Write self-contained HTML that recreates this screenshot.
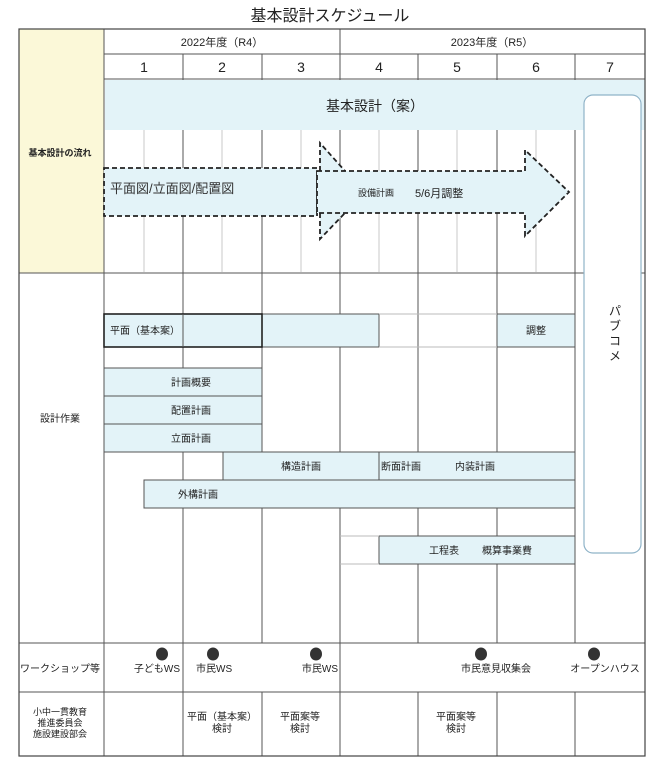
<!DOCTYPE html>
<html><head><meta charset="utf-8"><style>
body{margin:0;background:#fff}
svg{display:block;font-family:"Liberation Sans","Noto Sans CJK JP",sans-serif}
</style></head><body>
<svg width="659" height="768" viewBox="0 0 659 768" xmlns="http://www.w3.org/2000/svg">
<text x="330" y="21" font-size="16" text-anchor="middle" fill="#222">基本設計スケジュール</text>
<!-- label column fill -->
<rect x="19" y="29" width="85" height="244" fill="#fbf8d8"/>
<!-- blue band -->
<rect x="105" y="80" width="540" height="50" fill="#e3f3f8"/>
<!-- flow sub grid -->
<g stroke="#c8c8c8" stroke-width="1">
<line x1="144" y1="130" x2="144" y2="272"/><line x1="222" y1="130" x2="222" y2="272"/><line x1="301" y1="130" x2="301" y2="272"/><line x1="379" y1="130" x2="379" y2="272"/><line x1="457" y1="130" x2="457" y2="272"/><line x1="536" y1="130" x2="536" y2="272"/>
</g>
<g stroke="#555" stroke-width="1">
<line x1="183" y1="130" x2="183" y2="643"/><line x1="262" y1="130" x2="262" y2="643"/><line x1="340" y1="130" x2="340" y2="643"/><line x1="418" y1="130" x2="418" y2="643"/><line x1="497" y1="130" x2="497" y2="643"/><line x1="575" y1="130" x2="575" y2="643"/>
<line x1="183" y1="54" x2="183" y2="80"/><line x1="262" y1="54" x2="262" y2="80"/><line x1="340" y1="29" x2="340" y2="80"/><line x1="418" y1="54" x2="418" y2="80"/><line x1="497" y1="54" x2="497" y2="80"/><line x1="575" y1="54" x2="575" y2="80"/>
<line x1="104" y1="54" x2="645" y2="54"/><line x1="104" y1="79" x2="645" y2="79"/>
<line x1="19" y1="273" x2="645" y2="273"/>
<line x1="19" y1="643" x2="645" y2="643"/><line x1="19" y1="692" x2="645" y2="692"/>
<line x1="183" y1="643" x2="183" y2="692"/><line x1="340" y1="643" x2="340" y2="692"/>
<line x1="183" y1="692" x2="183" y2="756"/><line x1="262" y1="692" x2="262" y2="756"/><line x1="340" y1="692" x2="340" y2="756"/><line x1="418" y1="692" x2="418" y2="756"/><line x1="497" y1="692" x2="497" y2="756"/><line x1="575" y1="692" x2="575" y2="756"/>
<line x1="104" y1="29" x2="104" y2="756"/>
</g>
<rect x="19" y="29" width="626" height="727" fill="none" stroke="#444" stroke-width="1.2"/>
<!-- headers -->
<g font-size="11" text-anchor="middle" fill="#222">
<text x="222" y="46">2022年度（R4）</text><text x="492" y="46">2023年度（R5）</text>
</g>
<g font-size="14" text-anchor="middle" fill="#222">
<text x="144" y="72">1</text><text x="222" y="72">2</text><text x="301" y="72">3</text><text x="379" y="72">4</text><text x="457" y="72">5</text><text x="536" y="72">6</text><text x="610" y="72">7</text>
</g>
<text x="375" y="111" font-size="14" text-anchor="middle" fill="#222">基本設計（案）</text>
<text x="60" y="156" font-size="9" font-weight="bold" text-anchor="middle" fill="#222">基本設計の流れ</text>
<!-- dashed box -->
<rect x="104" y="168" width="213" height="48" fill="#e3f3f8" stroke="#222" stroke-width="1.8" stroke-dasharray="5,3"/>
<text x="110" y="193" font-size="13" fill="#333">平面図/立面図/配置図</text>
<!-- arrows -->
<polygon points="320,143 345,171 320,171" fill="#e3f3f8"/>
<polygon points="320,239 345,213 320,213" fill="#e3f3f8"/>
<polygon points="317,171 525,171 525,150 569,192 525,236 525,213 317,213" fill="#e3f3f8"/>
<path d="M320,171 L320,143 L345,171 M320,213 L320,239 L345,213" fill="none" stroke="#222" stroke-width="1.8" stroke-dasharray="5,3"/>
<path d="M317,171 L525,171 L525,150 L569,192 L525,236 L525,213 L317,213 Z" fill="none" stroke="#222" stroke-width="1.8" stroke-dasharray="5,3"/>
<text x="358" y="196" font-size="9" fill="#222">設備計画</text>
<text x="415" y="197" font-size="11" fill="#222">5/6月調整</text>
<!-- design bars -->
<g stroke="#555" stroke-width="1" fill="#e3f3f8">
<rect x="104" y="314" width="275" height="33"/>
<rect x="497" y="314" width="78" height="33"/>
<rect x="104" y="368" width="158" height="28"/>
<rect x="104" y="396" width="158" height="28"/>
<rect x="104" y="424" width="158" height="28"/>
<rect x="223" y="452" width="156" height="28"/>
<rect x="379" y="452" width="196" height="28"/>
<rect x="144" y="480" width="431" height="28"/>
<rect x="379" y="536" width="196" height="28"/>
</g>
<rect x="104" y="314" width="158" height="33" fill="none" stroke="#222" stroke-width="1.6"/>
<line x1="183" y1="314" x2="183" y2="347" stroke="#555"/>
<g stroke="#bbb"><line x1="379" y1="314" x2="497" y2="314"/><line x1="379" y1="347" x2="497" y2="347"/><line x1="340" y1="536" x2="379" y2="536"/><line x1="340" y1="564" x2="379" y2="564"/></g>
<g font-size="10" fill="#222">
<text x="110" y="334">平面（基本案）</text>
<text x="536" y="334" text-anchor="middle">調整</text>
<text x="191" y="386" text-anchor="middle">計画概要</text>
<text x="191" y="414" text-anchor="middle">配置計画</text>
<text x="191" y="442" text-anchor="middle">立面計画</text>
<text x="301" y="470" text-anchor="middle">構造計画</text>
<text x="381" y="470">断面計画</text>
<text x="455" y="470">内装計画</text>
<text x="178" y="498">外構計画</text>
<text x="429" y="554">工程表</text>
<text x="482" y="554">概算事業費</text>
<text x="60" y="422" text-anchor="middle">設計作業</text>
</g>
<!-- pabukome -->
<rect x="584" y="95" width="57" height="458" rx="9" fill="#fff" stroke="#8fb3c8" stroke-width="1.2"/>
<g font-size="12" text-anchor="middle" fill="#222">
<text x="615" y="315">パ</text><text x="615" y="330">ブ</text><text x="615" y="345">コ</text><text x="615" y="360">メ</text>
</g>
<!-- workshop -->
<g fill="#333"><ellipse cx="162" cy="654" rx="6" ry="6.5"/><ellipse cx="213" cy="654" rx="6" ry="6.5"/><ellipse cx="316" cy="654" rx="6" ry="6.5"/><ellipse cx="481" cy="654" rx="6" ry="6.5"/><ellipse cx="594" cy="654" rx="6" ry="6.5"/></g>
<g font-size="10" fill="#222">
<text x="60" y="672" text-anchor="middle">ワークショップ等</text>
<text x="180" y="672" text-anchor="end">子どもWS</text>
<text x="196" y="672">市民WS</text>
<text x="338" y="672" text-anchor="end">市民WS</text>
<text x="496" y="672" text-anchor="middle">市民意見収集会</text>
<text x="605" y="672" text-anchor="middle">オープンハウス</text>
<text x="60" y="715" text-anchor="middle" font-size="9">小中一貫教育</text>
<text x="60" y="726" text-anchor="middle" font-size="9">推進委員会</text>
<text x="60" y="737" text-anchor="middle" font-size="9">施設建設部会</text>
<text x="222" y="720" text-anchor="middle">平面（基本案）</text>
<text x="222" y="732" text-anchor="middle">検討</text>
<text x="300" y="720" text-anchor="middle">平面案等</text>
<text x="300" y="732" text-anchor="middle">検討</text>
<text x="456" y="720" text-anchor="middle">平面案等</text>
<text x="456" y="732" text-anchor="middle">検討</text>
</g>
</svg>
</body></html>
